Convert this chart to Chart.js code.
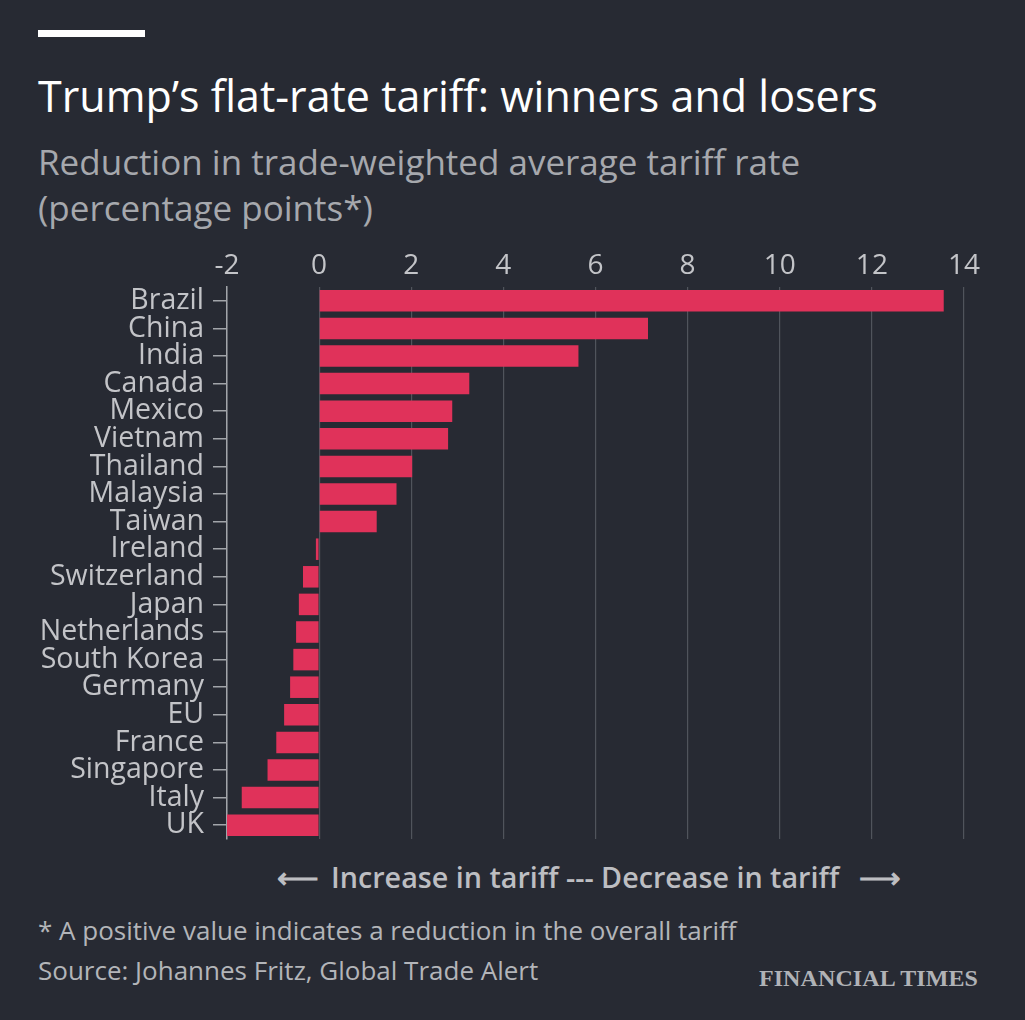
<!DOCTYPE html>
<html>
<head>
<meta charset="utf-8">
<script src="https://cdn.jsdelivr.net/npm/chart.js@4.4.1/dist/chart.umd.min.js"></script>
<style>
  html, body { margin: 0; padding: 0; background: #272a33; }
  body { width: 1025px; height: 1020px; position: relative; overflow: hidden; font-family: 'Open Sans', sans-serif; }
  .bar { position: absolute; left: 38px; top: 30px; width: 107px; height: 7px; background: #ffffff; }
  .title { position: absolute; left: 38px; top: 66px; font-size: 43px; color: #ffffff; white-space: nowrap; }
  .sub { position: absolute; left: 38px; top: 139px; font-size: 35px; line-height: 46px; color: #a6a8ad; white-space: nowrap; }
  #wrap { position: absolute; left: 0; top: 240px; width: 1025px; height: 600px; }
  .note { position: absolute; left: 277px; top: 857px; font-size: 28.7px; font-weight: 600; color: #bdbec2; white-space: nowrap; }
  .note .txt { margin-left: 12px; margin-right: 20px; }
  .foot { position: absolute; left: 38px; font-size: 26px; color: #b3b5b9; white-space: nowrap; }
  .ft { position: absolute; right: 47px; top: 965px; font-family: 'Liberation Serif', serif; font-weight: bold; font-size: 24px; color: #b0b2b6; letter-spacing: 0.1px; }
</style>
</head>
<body>
<div class="bar"></div>
<div class="title">Trump’s flat-rate tariff: winners and losers</div>
<div class="sub">Reduction in trade-weighted average tariff rate<br>(percentage points*)</div>
<div id="wrap"><canvas id="tariffChart" width="1025" height="600"></canvas></div>
<div class="note"><span>⟵</span><span class="txt">Increase in tariff --- Decrease in tariff</span><span>⟶</span></div>
<div class="foot" style="top:912px">* A positive value indicates a reduction in the overall tariff</div>
<div class="foot" style="top:952px">Source: Johannes Fritz, Global Trade Alert</div>
<div class="ft">FINANCIAL TIMES</div>

<script>
const countries = ['Brazil', 'China', 'India', 'Canada', 'Mexico', 'Vietnam', 'Thailand', 'Malaysia', 'Taiwan', 'Ireland',
    'Switzerland', 'Japan', 'Netherlands', 'South Korea', 'Germany', 'EU', 'France', 'Singapore', 'Italy', 'UK'];
const reduction = [13.56, 7.14, 5.63, 3.26, 2.89, 2.80, 2.02, 1.68, 1.25, -0.07,
    -0.35, -0.44, -0.50, -0.56, -0.63, -0.76, -0.93, -1.12, -1.68, -2.03];
const xTicks = [-2, 0, 2, 4, 6, 8, 10, 12, 14];

document.addEventListener('DOMContentLoaded', function () {
    const ctx = document.getElementById('tariffChart').getContext('2d');
    new Chart(ctx, {
        type: 'bar',
        data: {
            labels: countries,
            datasets: [{
                label: 'Reduction in tariff rate',
                data: reduction,
                backgroundColor: '#e0325a',
                borderWidth: 0,
                barPercentage: 0.78,
                categoryPercentage: 1
            }]
        },
        options: {
            indexAxis: 'y',
            responsive: false,
            animation: false,
            layout: { padding: { left: 0, right: 61, top: 0, bottom: 1 } },
            plugins: {
                legend: { display: false },
                tooltip: { enabled: false }
            },
            scales: {
                x: {
                    position: 'top',
                    min: xTicks[0],
                    max: xTicks[xTicks.length - 1],
                    afterBuildTicks: function (scale) {
                        scale.ticks = xTicks.map(v => ({ value: v }));
                    },
                    afterFit: function (scale) {
                        scale.height = 47;
                        scale.paddingLeft = 0;
                        scale.paddingRight = 0;
                    },
                    grid: { color: '#50545c', lineWidth: 1.2, drawTicks: false },
                    border: { display: false },
                    ticks: {
                        color: '#c3c4c8',
                        padding: 4,
                        font: { family: "'Open Sans', sans-serif", size: 28 }
                    }
                },
                y: {
                    afterFit: function (scale) {
                        scale.width = 227;
                        scale.paddingTop = 0;
                        scale.paddingBottom = 0;
                    },
                    grid: { drawOnChartArea: false, offset: false, tickLength: 14, color: '#a2a5aa', lineWidth: 1.5 },
                    border: { color: '#a2a5aa', width: 1.5 },
                    ticks: {
                        color: '#c3c4c8',
                        padding: 9,
                        autoSkip: false,
                        font: { family: "'Open Sans', sans-serif", size: 28.5 }
                    }
                }
            }
        }
    });
});
</script>
</body>
</html>
